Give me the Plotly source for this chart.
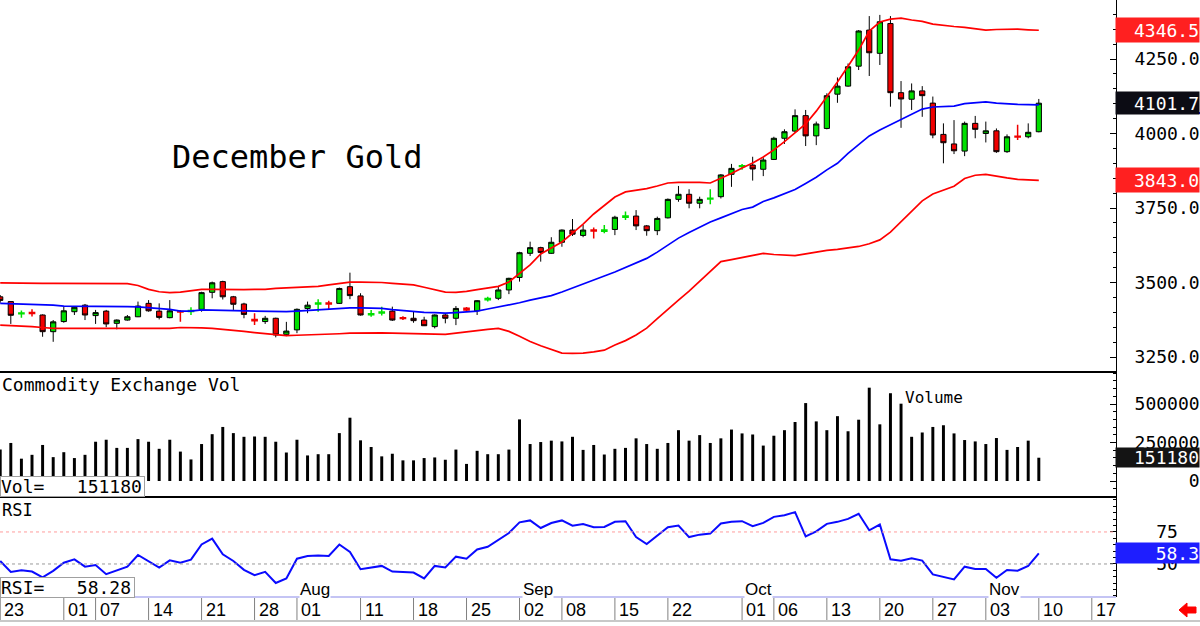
import plotly.graph_objects as go

# ---------------- data ----------------
opens = [3452, 3436, 3395, 3399, 3391, 3335, 3369, 3402, 3424, 3389,
         3404, 3363, 3374, 3385, 3430, 3404, 3382, 3403, 3403, 3410,
         3467, 3503, 3452, 3428, 3376, 3369, 3380, 3326, 3341, 3413,
         3428, 3431, 3430, 3486, 3455, 3392, 3398, 3404, 3382, 3380,
         3374, 3352, 3391, 3380, 3414, 3405, 3442, 3447, 3475, 3517,
         3598, 3617, 3598, 3635, 3676, 3658, 3676, 3672, 3678, 3719,
         3723, 3690, 3674, 3717, 3779, 3796, 3766, 3780, 3788, 3863,
         3889, 3894, 3880, 3913, 3984, 4008, 4060, 3992, 4017, 4132,
         4159, 4226, 4347, 4269, 4369, 4137, 4115, 4143, 4102, 3997,
         3965, 3941, 4034, 4000, 4009, 3939, 3991, 3989, 4006]
highs = [3458, 3437, 3406, 3410, 3393, 3374, 3419, 3421, 3428, 3408,
         3408, 3376, 3391, 3436, 3441, 3430, 3441, 3408, 3417, 3469,
         3503, 3506, 3455, 3432, 3397, 3388, 3382, 3368, 3413, 3436,
         3444, 3439, 3483, 3533, 3464, 3408, 3419, 3419, 3387, 3402,
         3385, 3393, 3394, 3421, 3418, 3441, 3452, 3486, 3516, 3603,
         3637, 3620, 3652, 3678, 3713, 3693, 3685, 3693, 3724, 3738,
         3743, 3693, 3721, 3782, 3824, 3813, 3788, 3813, 3864, 3898,
         3898, 3922, 3920, 3989, 4014, 4081, 4079, 4040, 4135, 4188,
         4235, 4347, 4394, 4398, 4394, 4176, 4168, 4159, 4124, 4034,
         4045, 4040, 4059, 4040, 4017, 3997, 4029, 4034, 4116]
lows = [3432, 3361, 3382, 3386, 3318, 3301, 3365, 3391, 3374, 3361,
        3350, 3343, 3372, 3384, 3402, 3376, 3380, 3368, 3391, 3402,
        3447, 3443, 3408, 3380, 3357, 3361, 3316, 3320, 3330, 3397,
        3402, 3408, 3428, 3444, 3389, 3385, 3389, 3371, 3374, 3365,
        3354, 3346, 3363, 3357, 3402, 3391, 3436, 3441, 3461, 3503,
        3589, 3570, 3596, 3620, 3656, 3652, 3648, 3665, 3659, 3710,
        3676, 3657, 3659, 3715, 3771, 3749, 3749, 3763, 3782, 3821,
        3878, 3842, 3857, 3911, 3965, 4003, 3958, 3961, 4014, 4103,
        4157, 4213, 4193, 4230, 4090, 4019, 4079, 4056, 3984, 3900,
        3931, 3924, 3984, 3970, 3935, 3935, 3978, 3984, 4004]
closes = [3440, 3390, 3398, 3396, 3335, 3368, 3405, 3417, 3391, 3399,
          3361, 3374, 3385, 3421, 3405, 3383, 3405, 3401, 3406, 3466,
          3499, 3452, 3427, 3393, 3372, 3380, 3324, 3337, 3410, 3424,
          3431, 3428, 3480, 3456, 3391, 3395, 3401, 3374, 3379, 3372,
          3355, 3391, 3380, 3413, 3408, 3439, 3446, 3475, 3514, 3600,
          3617, 3601, 3635, 3676, 3662, 3676, 3673, 3676, 3719, 3723,
          3690, 3674, 3715, 3779, 3796, 3766, 3779, 3783, 3861, 3883,
          3892, 3881, 3911, 3984, 4006, 4060, 3992, 4032, 4127, 4159,
          4224, 4344, 4271, 4375, 4137, 4116, 4143, 4127, 3995, 3969,
          3942, 4034, 4014, 4009, 3939, 3989, 3988, 4004, 4101.7]
bb_upper = [3499, 3498, 3498, 3497, 3497, 3497, 3497, 3497, 3497, 3497,
            3497, 3496, 3496, 3490, 3477, 3469, 3466, 3468, 3472, 3477,
            3477, 3476, 3475, 3476, 3477, 3477, 3480, 3482, 3484, 3484,
            3487, 3492, 3497, 3501, 3501, 3501, 3500, 3497, 3494, 3492,
            3484, 3476, 3468, 3467, 3470, 3476, 3481, 3487, 3502, 3530,
            3559, 3596, 3616, 3636, 3666, 3696, 3730, 3760, 3787, 3804,
            3810, 3815, 3824, 3834, 3836, 3837, 3836, 3834, 3849, 3866,
            3884, 3901, 3921, 3945, 3973, 4002, 4032, 4075, 4122, 4173,
            4226, 4280, 4344, 4374, 4384, 4387, 4381, 4376, 4367, 4362,
            4359, 4356, 4351, 4347, 4349, 4350, 4350, 4348, 4346.5]
bb_mid = [3430, 3429, 3428, 3427, 3425, 3424, 3421, 3421, 3420, 3419,
          3419, 3419, 3419, 3418, 3415, 3413, 3410, 3404, 3404, 3408,
          3407, 3406, 3405, 3404, 3403, 3402, 3402, 3402, 3404, 3406,
          3409, 3412, 3414, 3415, 3415, 3414, 3413, 3409, 3406, 3402,
          3400, 3399, 3397, 3399, 3402, 3404, 3411, 3418, 3424, 3432,
          3441, 3448, 3456, 3468, 3482, 3495, 3508, 3522, 3535, 3550,
          3565, 3581, 3602, 3626, 3649, 3668, 3686, 3703, 3717, 3732,
          3745, 3753, 3772, 3784, 3797, 3812, 3832, 3853, 3878, 3900,
          3933, 3963, 3992, 4012, 4029, 4047, 4065, 4082, 4089, 4091,
          4092, 4100, 4104, 4106, 4102, 4099, 4098, 4097, 4096]
bb_lower = [3357, 3356, 3354, 3352, 3349, 3346, 3346, 3346, 3346, 3346,
            3346, 3346, 3346, 3346, 3345, 3344, 3346, 3349, 3349, 3348,
            3346, 3343, 3341, 3336, 3332, 3328, 3324, 3322, 3323, 3324,
            3324, 3326, 3328, 3330, 3331, 3331, 3331, 3330, 3329, 3327,
            3327, 3327, 3326, 3330, 3335, 3340, 3343, 3346, 3336, 3320,
            3302, 3288, 3275, 3263, 3262, 3263, 3267, 3273, 3290, 3305,
            3324, 3347, 3379, 3411, 3441, 3471, 3505, 3539, 3570, 3577,
            3584, 3591, 3598, 3594, 3592, 3590, 3596, 3603, 3608, 3611,
            3615, 3621, 3630, 3643, 3669, 3703, 3738, 3774, 3797, 3810,
            3823, 3849, 3860, 3863, 3856, 3851, 3846, 3845, 3843]
volume = [204000, 247000, 145000, 170000, 234000, 155000, 187000, 149000, 170000, 255000,
          268000, 215000, 215000, 272000, 255000, 209000, 268000, 191000, 140000, 240000,
          304000, 351000, 311000, 287000, 289000, 287000, 255000, 185000, 268000, 166000,
          174000, 174000, 311000, 411000, 264000, 221000, 160000, 177000, 134000, 134000,
          149000, 153000, 138000, 204000, 111000, 196000, 174000, 174000, 204000, 400000,
          240000, 253000, 262000, 257000, 287000, 202000, 234000, 172000, 209000, 215000,
          277000, 240000, 209000, 247000, 330000, 262000, 298000, 247000, 277000, 334000,
          309000, 302000, 230000, 294000, 330000, 383000, 506000, 387000, 330000, 421000,
          323000, 398000, 606000, 368000, 570000, 502000, 287000, 315000, 351000, 362000,
          309000, 266000, 257000, 240000, 279000, 202000, 221000, 262000, 151180]
rsi = [52.3, 43.8, 45.1, 44.1, 39.5, 44.6, 51.0, 53.6, 47.9, 49.2,
       42.0, 45.1, 47.9, 57.0, 52.3, 47.2, 52.8, 51.0, 53.4, 65.2,
       69.8, 57.5, 52.3, 45.4, 41.2, 43.8, 35.1, 38.7, 54.1, 56.2,
       56.7, 56.2, 65.2, 59.3, 45.9, 47.2, 48.5, 44.1, 43.8, 43.3,
       38.7, 48.5, 47.2, 55.7, 54.1, 61.3, 63.4, 68.6, 74.2, 82.5,
       84.0, 78.1, 82.0, 84.0, 79.9, 81.2, 78.7, 78.9, 82.9, 83.4,
       71.0, 65.5, 72.1, 78.7, 80.0, 71.0, 72.9, 73.7, 81.6, 82.9,
       83.4, 79.5, 82.1, 86.8, 88.1, 90.5, 71.6, 75.5, 81.3, 82.9,
       85.2, 89.2, 76.3, 80.8, 53.7, 52.6, 54.5, 52.6, 41.8, 40.0,
       37.9, 47.9, 46.1, 46.1, 39.2, 45.3, 44.7, 48.4, 58.28]

day_labels = ["23", "01", "07", "14", "21", "28", "01", "11", "18", "25", "02",
              "08", "15", "22", "01", "06", "13", "20", "27", "03", "10", "17"]
day_label_pos = [0, 6, 9, 14, 19, 24, 28, 34, 39, 44, 49,
                 53, 58, 63, 70, 73, 78, 83, 88, 93, 98, 103]
month_labels = ["Aug", "Sep", "Oct", "Nov"]
month_label_pos = [28, 49, 70, 93]
price_ticks = [3250, 3500, 3750, 4000, 4250]
price_tick_text = ["3250.0", "3500.0", "3750.0", "4000.0", "4250.0"]
vol_ticks = [0, 250000, 500000]
vol_tick_text = ["\u00a0" * 5 + "0", "250000", "500000"]
rsi_ticks = [50, 75]
rsi_tick_text = ["\u00a0\u00a050", "\u00a0\u00a075"]
last_upper, last_close, last_lower = 4346.5, 4101.7, 3843.0
last_volume, last_rsi = 151180, 58.28

# ---------------- layout helpers ----------------
W, H = 1200, 626
XR = 1116  # right edge of plotting area in px
MONO = "DejaVu Sans Mono"
SANS = "Liberation Sans, Arial, sans-serif"
GREEN = "#00e000"
RED = "#f00000"


def py(p):
    return 1 - p / H


def pxx(p):
    return p / W


x = list(range(len(closes)))
doji = [i for i in x if abs(closes[i] - opens[i]) <= 6]
body = [i for i in x if i not in doji]

fig = go.Figure()

# Bollinger bands
for band, col in ((bb_upper, "#ff0000"), (bb_lower, "#ff0000"), (bb_mid, "#0000ff")):
    fig.add_trace(go.Scatter(x=x, y=band, mode="lines", yaxis="y",
                             line=dict(color=col, width=1.7), hoverinfo="skip"))

# candles with black outline
fig.add_trace(go.Candlestick(
    x=[x[i] for i in body], open=[opens[i] for i in body], high=[highs[i] for i in body],
    low=[lows[i] for i in body], close=[closes[i] for i in body], yaxis="y",
    increasing=dict(line=dict(color="black", width=1), fillcolor=GREEN),
    decreasing=dict(line=dict(color="black", width=1), fillcolor=RED),
    whiskerwidth=0))
# doji candles drawn in their own colour
fig.add_trace(go.Candlestick(
    x=[x[i] for i in doji], open=[opens[i] for i in doji], high=[highs[i] for i in doji],
    low=[lows[i] for i in doji], close=[closes[i] for i in doji], yaxis="y",
    increasing=dict(line=dict(color=GREEN, width=1.5), fillcolor=GREEN),
    decreasing=dict(line=dict(color=RED, width=1.5), fillcolor=RED),
    whiskerwidth=0))

# volume
fig.add_trace(go.Bar(x=x, y=volume, yaxis="y2", width=0.28,
                     marker=dict(color="black", line=dict(width=0))))
# RSI
fig.add_trace(go.Scatter(x=x, y=rsi, mode="lines", yaxis="y3",
                         line=dict(color="#0a0aff", width=2)))

common_y = dict(side="right", anchor="x", showline=True, linecolor="black", linewidth=1,
                ticks="inside", ticklen=6, tickcolor="black", showgrid=False,
                zeroline=False, tickfont=dict(family=MONO, size=18, color="black"),
                ticklabelstandoff=14, fixedrange=True, tickmode="array",
                automargin=False)

fig.update_layout(
    width=W, height=H, margin=dict(l=0, r=0, t=0, b=0),
    paper_bgcolor="white", plot_bgcolor="white", showlegend=False, hovermode=False,
    xaxis=dict(domain=[0, XR / W], range=[-0.02, XR / 10.6], visible=False,
               rangeslider=dict(visible=False), fixedrange=True, automargin=False),
    yaxis=dict(domain=[py(372), 1], range=[3199.7, 4448],
               tickvals=price_ticks, ticktext=price_tick_text,
               minor=dict(tickmode="linear", tick0=0, dtick=50, ticks="inside",
                          ticklen=3, tickcolor="black", showgrid=False),
               **common_y),
    yaxis2=dict(domain=[py(497), py(372)], range=[-103900, 707800],
                tickvals=vol_ticks, ticktext=vol_tick_text,
                minor=dict(tickmode="linear", tick0=0, dtick=50000, ticks="inside",
                           ticklen=3, tickcolor="black", showgrid=False),
                **common_y),
    yaxis3=dict(domain=[py(597), py(497)], range=[24.2, 102.3],
                tickvals=rsi_ticks, ticktext=rsi_tick_text,
                minor=dict(tickmode="linear", tick0=0, dtick=5, ticks="inside",
                           ticklen=3, tickcolor="black", showgrid=False),
                **common_y),
)

shapes = []
# panel separators
for yy in (372, 497):
    shapes.append(dict(type="line", xref="paper", yref="paper", x0=0, x1=XR / W,
                       y0=py(yy), y1=py(yy), line=dict(color="black", width=2)))
# RSI reference lines
shapes.append(dict(type="line", xref="paper", yref="y3", x0=0, x1=XR / W, y0=75, y1=75,
                   line=dict(color="#ff9c9c", width=1, dash="dot")))
shapes.append(dict(type="line", xref="paper", yref="y3", x0=0, x1=XR / W, y0=50, y1=50,
                   line=dict(color="#9a9a9a", width=1, dash="dot")))
# lavender base line of RSI panel, bottom line of date row
shapes.append(dict(type="line", xref="paper", yref="paper", x0=0, x1=XR / W,
                   y0=py(597), y1=py(597), line=dict(color="#c4c4f4", width=2)))
shapes.append(dict(type="line", xref="paper", yref="paper", x0=0, x1=1,
                   y0=py(621), y1=py(621), line=dict(color="#c8c8c8", width=2)))
# date separators
for p in day_label_pos:
    shapes.append(dict(type="line", xref="x", yref="paper", x0=p, x1=p,
                       y0=py(620), y1=py(598), line=dict(color="#808080", width=1)))
# blue underline of the last-price box
shapes.append(dict(type="line", xref="paper", yref="paper", x0=XR / W + 0.001, x1=1,
                   y0=py(113), y1=py(113), line=dict(color="#0000ff", width=2)))
# red arrow bottom right
pts = [(1179, 610), (1187, 603), (1187, 607), (1196, 607), (1196, 613), (1187, 613), (1187, 617)]
path = "M " + " L ".join(f"{pxx(a):.5f},{py(b):.5f}" for a, b in pts) + " Z"
shapes.append(dict(type="path", xref="paper", yref="paper", path=path,
                   fillcolor="#ff0000", line=dict(color="#ff0000", width=1)))

ann = []
for lab, p in zip(day_labels, day_label_pos):
    ann.append(dict(xref="x", yref="paper", x=p, y=py(610), xanchor="left", yanchor="middle",
                    xshift=2, text=lab, showarrow=False,
                    font=dict(family=SANS, size=18, color="black")))
for lab, p in zip(month_labels, month_label_pos):
    ann.append(dict(xref="x", yref="paper", x=p, y=py(589), xanchor="left", yanchor="middle",
                    xshift=2, text=lab, showarrow=False, bgcolor="white", borderpad=0,
                    font=dict(family=SANS, size=17, color="black")))

ann.append(dict(xref="paper", yref="paper", x=pxx(170), y=py(157), xanchor="left",
                yanchor="middle", text="December Gold", showarrow=False,
                font=dict(family=MONO, size=32, color="black")))
ann.append(dict(xref="paper", yref="paper", x=0, y=py(384), xanchor="left",
                yanchor="middle", text="Commodity Exchange Vol", showarrow=False,
                font=dict(family=MONO, size=18, color="black")))
ann.append(dict(xref="paper", yref="paper", x=pxx(903), y=py(397), xanchor="left",
                yanchor="middle", text="Volume", showarrow=False,
                font=dict(family=MONO, size=16, color="black")))
ann.append(dict(xref="paper", yref="paper", x=0, y=py(510), xanchor="left",
                yanchor="middle", text="RSI", showarrow=False,
                font=dict(family=MONO, size=17, color="black")))
ann.append(dict(xref="paper", yref="paper", x=0, y=py(487), xanchor="left",
                yanchor="middle", text="Vol=\u00a0\u00a0\u00a0" + str(last_volume),
                showarrow=False, bgcolor="white", bordercolor="#a0a0a0", borderwidth=1,
                borderpad=0, width=143, height=19, align="left",
                font=dict(family=MONO, size=18, color="black")))
ann.append(dict(xref="paper", yref="paper", x=0, y=py(587), xanchor="left",
                yanchor="middle", text="RSI=\u00a0\u00a0\u00a0" + f"{last_rsi:.2f}",
                showarrow=False, bgcolor="white", bordercolor="#a0a0a0", borderwidth=1,
                borderpad=0, width=133, height=19, align="left",
                font=dict(family=MONO, size=18, color="black")))

# right-side value boxes
for yref, val, txt, bg, h in (("y", last_upper, f"{last_upper:.1f}", "#ff2020", 24),
                              ("y", last_close, f"{last_close:.1f}", "#0c0c14", 22),
                              ("y", last_lower, f"{last_lower:.1f}", "#ff2020", 24),
                              ("y2", last_volume, str(last_volume), "#141414", 19),
                              ("y3", last_rsi, f"{last_rsi:.1f}", "#1e1eff", 20)):
    ann.append(dict(xref="paper", yref=yref, x=1, y=val, xanchor="right", yanchor="middle",
                    text=txt, showarrow=False, bgcolor=bg, borderpad=0, width=83, height=h,
                    align="right", font=dict(family=MONO, size=18, color="white")))

fig.update_layout(shapes=shapes, annotations=ann)
fig.write_html("out.html")
